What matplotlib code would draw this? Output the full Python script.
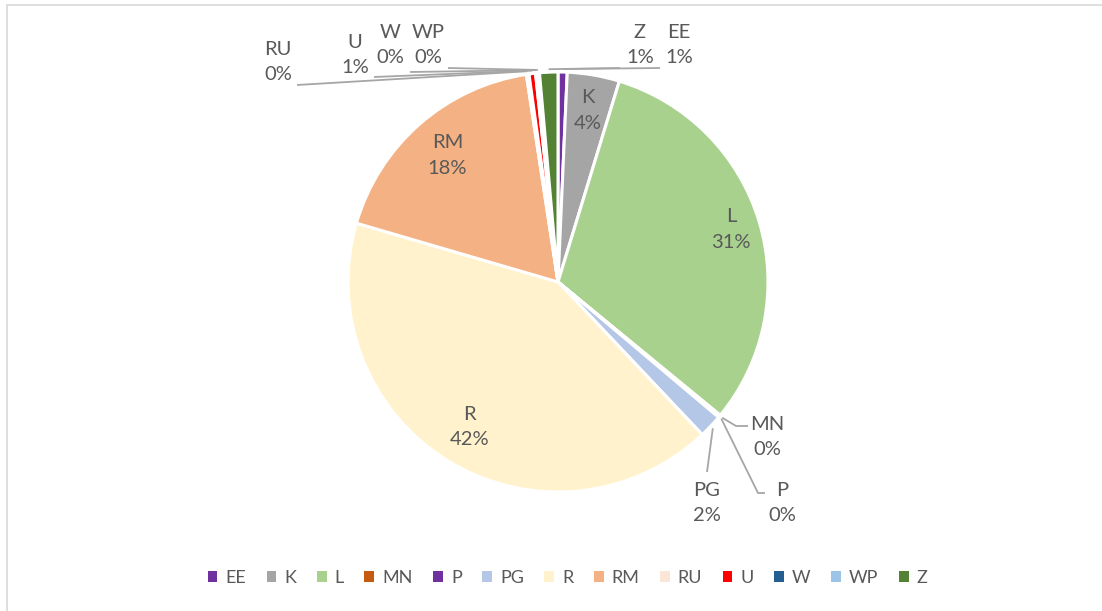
import numpy as np
import matplotlib.pyplot as plt
from matplotlib.patches import Patch, Rectangle

labels = ["EE", "K", "L", "MN", "P", "PG", "R", "RM", "RU", "U", "W", "WP", "Z"]
values = [0.7, 4.0, 31.1, 0.1, 0.1, 1.8, 41.4, 18.0, 0.2, 0.5, 0.1, 0.2, 1.4]
pct_text = ["1%", "4%", "31%", "0%", "0%", "2%", "42%", "18%", "0%", "1%", "0%", "0%", "1%"]
colors = ["#7030A0", "#A5A5A5", "#A9D18E", "#C55A11", "#7030A0", "#B4C7E7",
          "#FFF2CC", "#F4B183", "#FBE5D6", "#FF0000", "#255E91", "#9DC3E6", "#548235"]

W, H = 1102, 611
cx, cy, rad = 558, H - 282, 210

plt.rcParams['font.family'] = ['Lato', 'DejaVu Sans']
fig = plt.figure(figsize=(W / 100, H / 100), dpi=100)
ax = fig.add_axes([0, 0, 1, 1])

wedges, _ = ax.pie(values, colors=colors, startangle=90, counterclock=False,
                   center=(cx, cy), radius=rad,
                   wedgeprops=dict(edgecolor="white", linewidth=2.2))
ax.set_xlim(0, W)
ax.set_ylim(0, H)
ax.set_aspect("equal")
ax.axis("off")

txt_col = "#595959"
line_col = "#A6A6A6"
fs = 14.5
lsp = 1.62

def mid_point(i, r):
    w = wedges[i]
    a = np.deg2rad((w.theta1 + w.theta2) / 2)
    return cx + r * np.cos(a), cy + r * np.sin(a)

# labels placed inside the larger slices
inside = {"K": 0.83, "L": 0.86, "R": 0.81, "RM": 0.80}
for i, lab in enumerate(labels):
    if lab in inside:
        x, y = mid_point(i, rad * inside[lab])
        ax.text(x, y, lab + "\n" + pct_text[i], ha="center", va="center",
                fontsize=fs, color=txt_col, linespacing=lsp)

# labels outside with leader lines: text centre, line start
outside = {
    "RU": ((278, 62), [(297, 85)]),
    "U": ((355, 55), [(374, 77)]),
    "W": ((390, 45), [(410, 72)]),
    "WP": ((428, 45), [(448, 68)]),
    "Z": ((640, 45), [(620, 68)]),
    "EE": ((679, 45), [(660, 68)]),
    "MN": ((767, 437), [(748, 426), (736, 426)]),
    "P": ((782, 503), [(765, 493), (758, 493)]),
    "PG": ((707, 503), [(707, 472)]),
}
for i, lab in enumerate(labels):
    if lab in outside:
        (tx, ty), pts = outside[lab]
        ax.text(tx, H - ty, lab + "\n" + pct_text[i], ha="center", va="center",
                fontsize=fs, color=txt_col, linespacing=lsp)
        ex, ey = mid_point(i, rad + 3)
        xs = [p[0] for p in pts] + [ex]
        ys = [H - p[1] for p in pts] + [ey]
        ax.plot(xs, ys, color=line_col, linewidth=1.3, solid_capstyle="butt")

handles = [Patch(facecolor=c, edgecolor="none") for c in colors]
leg = fig.legend(handles, labels, loc="center", bbox_to_anchor=(0.515, 1 - 578 / H),
                 ncol=len(labels), frameon=False, fontsize=13,
                 handlelength=0.55, handleheight=0.55, handletextpad=0.45,
                 columnspacing=1.12)
for t in leg.get_texts():
    t.set_color(txt_col)

fig.patches.append(Rectangle((7 / W, -0.1), 1.2, (H - 5) / H + 0.1,
                             transform=fig.transFigure, fill=False,
                             edgecolor="#D9D9D9", linewidth=1.2))

fig.savefig("out.png", dpi=100)
